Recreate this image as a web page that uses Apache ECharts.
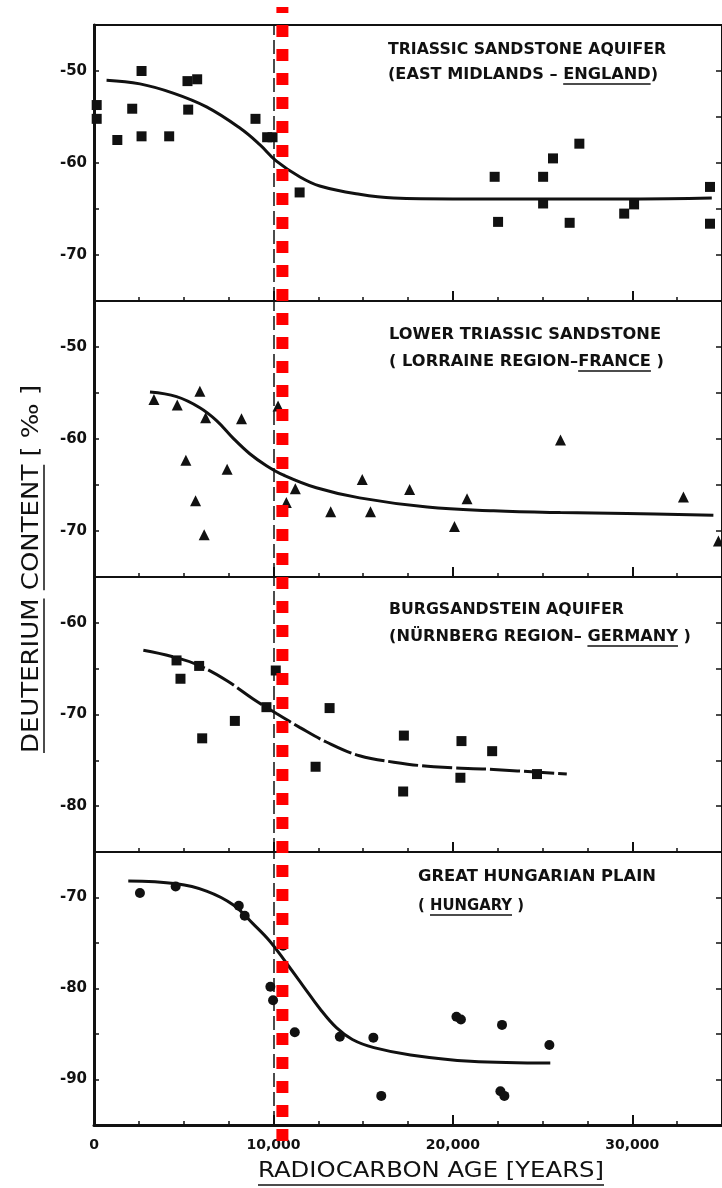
<!DOCTYPE html>
<html>
<head>
<meta charset="utf-8">
<script src="https://cdn.jsdelivr.net/npm/echarts@6/dist/echarts.min.js"></script>
<style>
  html, body { margin: 0; padding: 0; background: #fff; }
  #chart { width: 722px; height: 1188px; }
</style>
</head>
<body>
<div id="chart"></div>
<script>
// ---- data (age in years, deuterium in per mille) ----
const xTicks = [0, 10000, 20000, 30000];
const refAge = 10000;     // thin black dashed line
const redAge = 10500;     // thick red dashed line

// Triassic sandstone, East Midlands (squares)
const englandAge = [150, 150, 1300, 2130, 2650, 2650, 4190, 5210, 5750, 5250, 9000, 9650, 9950, 11460, 22330, 22520, 25030, 25580, 25030, 26510, 27050, 29550, 30100, 34330, 34330];
const englandD   = [-53.7, -55.2, -57.5, -54.1, -50.0, -57.1, -57.1, -51.1, -50.9, -54.2, -55.2, -57.2, -57.2, -63.2, -61.5, -66.4, -61.5, -59.5, -64.4, -66.5, -57.9, -65.5, -64.5, -62.6, -66.6];
const englandFitAge = [700, 2560, 4410, 6270, 8130, 9240, 10170, 11460, 12580, 14800, 16710, 20000, 25000, 30000, 34430];
const englandFitD   = [-51.0, -51.4, -52.4, -53.9, -56.2, -58.0, -59.8, -61.5, -62.5, -63.4, -63.8, -63.9, -63.9, -63.9, -63.8];

// Lower Triassic sandstone, Lorraine (triangles)
const franceAge = [3340, 4640, 5900, 6220, 8220, 5120, 7420, 5660, 6140, 10260, 10720, 11220, 13190, 14950, 15410, 17590, 20790, 20090, 26000, 32850, 34800];
const franceD   = [-55.7, -56.3, -54.8, -57.7, -57.8, -62.3, -63.3, -66.7, -70.4, -56.4, -66.9, -65.4, -67.9, -64.4, -67.9, -65.5, -66.5, -69.5, -60.1, -66.3, -71.1];
const franceFitAge = [3120, 4600, 5900, 6830, 7750, 8680, 9610, 10540, 12390, 14800, 18570, 22270, 25990, 29700, 34520];
const franceFitD   = [-54.9, -55.4, -56.6, -58.0, -59.9, -61.6, -62.9, -63.9, -65.3, -66.4, -67.4, -67.8, -68.0, -68.1, -68.3];

// Burgsandstein, Nürnberg (squares)
const germanyAge = [4600, 4820, 5860, 6030, 7850, 9610, 10130, 12350, 13130, 17270, 17230, 20480, 20420, 22190, 24690];
const germanyD   = [-64.1, -66.1, -64.7, -72.6, -70.7, -69.2, -65.2, -75.7, -69.3, -72.3, -78.4, -72.9, -76.9, -74.0, -76.5];
const germanyFitAge = [2750, 4600, 5900, 7390, 8870, 10170, 11460, 12950, 14800, 16710, 18940, 22270, 26350];
const germanyFitD   = [-63.0, -63.8, -64.7, -66.3, -68.3, -69.9, -71.4, -73.0, -74.5, -75.2, -75.7, -76.0, -76.5];

// Great Hungarian Plain (circles)
const hungaryAge = [2560, 4550, 8070, 8400, 9830, 9980, 10540, 11190, 13700, 15570, 16010, 20200, 20450, 22740, 22650, 22870, 25380];
const hungaryD   = [-69.5, -68.8, -70.9, -72.0, -79.8, -81.3, -75.3, -84.8, -85.3, -85.4, -91.8, -83.1, -83.4, -84.0, -91.3, -91.8, -86.2];
const hungaryFitAge = [1910, 4600, 6270, 7750, 8870, 9800, 10720, 11650, 12580, 13510, 14400, 15600, 17640, 20980, 25430];
const hungaryFitD   = [-68.2, -68.5, -69.3, -70.8, -72.9, -74.8, -77.2, -79.7, -82.2, -84.3, -85.6, -86.5, -87.3, -88.0, -88.2];

const yRanges = [[-75, -45], [-75, -45], [-85, -55], [-95, -65]];

const ink = '#111';
const fam = '"DejaVu Sans", sans-serif';

const zip = (a, b) => a.map((v, i) => [v, b[i]]);

const panels = [
  { pts: zip(englandAge, englandD), fit: zip(englandFitAge, englandFitD), symbol: 'rect', size: 10, dash: 'solid' },
  { pts: zip(franceAge, franceD), fit: zip(franceFitAge, franceFitD), symbol: 'triangle', size: 11, dash: 'solid' },
  { pts: zip(germanyAge, germanyD), fit: zip(germanyFitAge, germanyFitD), symbol: 'rect', size: 10, dash: [30, 4] },
  { pts: zip(hungaryAge, hungaryD), fit: zip(hungaryFitAge, hungaryFitD), symbol: 'circle', size: 10, dash: 'solid' }
];

// panel placement (px)
const tops = [25, 301, 577, 852];
const heights = [276, 276, 275, 273];

const chart = echarts.init(document.getElementById('chart'));

// text helper: stretch to a target width, underline chosen words
const measure = document.createElement('canvas').getContext('2d');
function caption(x, y, segs, opt) {
  const f = (opt.bold ? 'bold ' : '') + opt.size + 'px ' + fam;
  measure.font = f;
  const full = segs.map(s => s[0]).join('');
  const k = opt.width / measure.measureText(full).width;
  const kids = [{
    type: 'text', x: 0, y: 0, scaleX: k,
    style: { text: full, font: f, fill: ink, align: 'left', verticalAlign: 'middle' }
  }];
  let pos = 0;
  segs.forEach(s => {
    const w = measure.measureText(s[0]).width * k;
    if (s[1]) {
      kids.push({ type: 'line', shape: { x1: pos, y1: opt.under, x2: pos + w, y2: opt.under },
        style: { stroke: ink, lineWidth: opt.lw || 1.5 } });
    }
    pos += w;
  });
  return { type: 'group', x: x, y: y, rotation: opt.rot || 0, silent: true, children: kids };
}

const grids = [], xAxes = [], yAxes = [], series = [];

panels.forEach((p, i) => {
  grids.push({ left: 94, width: 630, top: tops[i], height: heights[i], show: true,
    borderColor: ink, borderWidth: 2, backgroundColor: 'transparent' });
  const last = i === panels.length - 1;
  xAxes.push({
    type: 'value', gridIndex: i, min: 0, max: 35000, interval: 10000,
    axisLine: { show: last, lineStyle: { color: ink, width: 3 } },
    axisTick: { show: true, inside: true, length: 10, lineStyle: { color: ink, width: 2 } },
    minorTick: { show: true, splitNumber: 4, length: 4, lineStyle: { color: ink, width: 1.5 } },
    splitLine: { show: false },
    axisLabel: { show: last, showMaxLabel: false, margin: 13, color: ink, fontFamily: fam, fontWeight: 'bold', fontSize: 14,
      formatter: v => v.toLocaleString('en-US') }
  });
  yAxes.push({
    type: 'value', gridIndex: i, min: yRanges[i][0], max: yRanges[i][1], interval: 5,
    axisLine: { show: true, lineStyle: { color: ink, width: 3 } },
    axisTick: { show: true, inside: true, length: 5, lineStyle: { color: ink, width: 1.5 } },
    splitLine: { show: false },
    axisLabel: { margin: 7, color: ink, fontFamily: fam, fontWeight: 'bold', fontSize: 15,
      formatter: v => (v % 10 === 0 && v !== yRanges[i][1] && v !== yRanges[i][0]) ? String(v) : '' }
  });
  yAxes.push({
    type: 'value', gridIndex: i, position: 'right', min: yRanges[i][0], max: yRanges[i][1], interval: 5,
    axisLine: { show: false },
    axisTick: { show: true, inside: true, length: 6, lineStyle: { color: ink, width: 1.5 } },
    splitLine: { show: false }, axisLabel: { show: false }
  });
  series.push({
    type: 'scatter', xAxisIndex: i, yAxisIndex: 2 * i, data: p.pts,
    symbol: p.symbol, symbolSize: p.size, itemStyle: { color: ink, opacity: 1 }, z: 3
  });
  series.push({
    type: 'line', xAxisIndex: i, yAxisIndex: 2 * i, data: p.fit, smooth: 0.4,
    showSymbol: false, lineStyle: { color: ink, width: 3, type: p.dash }, z: 2,
    markLine: {
      silent: true, symbol: ['none', 'none'], label: { show: false },
      lineStyle: { color: ink, width: 1.5, type: [14, 5] },
      data: [{ xAxis: refAge }]
    }
  });
});

// overlay for the red marker line spanning the whole figure
grids.push({ left: 94, width: 630, top: 7, height: 1134 });
xAxes.push({ type: 'value', gridIndex: 4, min: 0, max: 35000, show: false });
yAxes.push({ type: 'value', gridIndex: 4, min: 0, max: 1, show: false });
series.push({
  type: 'line', xAxisIndex: 4, yAxisIndex: 8, data: [[redAge, 1], [redAge, 0]],
  showSymbol: false, symbol: 'none', z: 10, clip: false,
  lineStyle: { color: '#ff0000', width: 12, type: [12, 12], dashOffset: 6, cap: 'butt' }
});

const graphics = [
  caption(388, 50, [['TRIASSIC SANDSTONE AQUIFER', false]], { size: 15, bold: true, width: 278, under: 9 }),
  caption(388, 75, [['(EAST MIDLANDS – ', false], ['ENGLAND', true], [')', false]], { size: 15, bold: true, width: 270, under: 9 }),
  caption(389, 335, [['LOWER TRIASSIC SANDSTONE', false]], { size: 15, bold: true, width: 272, under: 9 }),
  caption(389, 362, [['( LORRAINE REGION–', false], ['FRANCE', true], [' )', false]], { size: 15, bold: true, width: 275, under: 9 }),
  caption(389, 610, [['BURGSANDSTEIN AQUIFER', false]], { size: 15, bold: true, width: 235, under: 9 }),
  caption(389, 637, [['(NÜRNBERG REGION– ', false], ['GERMANY', true], [' )', false]], { size: 15, bold: true, width: 302, under: 9 }),
  caption(418, 877, [['GREAT HUNGARIAN PLAIN', false]], { size: 15, bold: true, width: 238, under: 9 }),
  caption(418, 906, [['( ', false], ['HUNGARY', true], [' )', false]], { size: 15, bold: true, width: 106, under: 9 }),
  caption(32, 753, [['DEUTERIUM', true], [' ', false], ['CONTENT', true], [' [ ‰ ]', false]],
    { size: 23, width: 368, under: 12, rot: Math.PI / 2 }),
  caption(258, 1172, [['RADIOCARBON AGE [YEARS]', true]], { size: 21, width: 346, under: 13 })
];

chart.setOption({
  animation: false,
  backgroundColor: '#fff',
  grid: grids,
  xAxis: xAxes,
  yAxis: yAxes,
  series: series,
  graphic: graphics
});
</script>
</body>
</html>
